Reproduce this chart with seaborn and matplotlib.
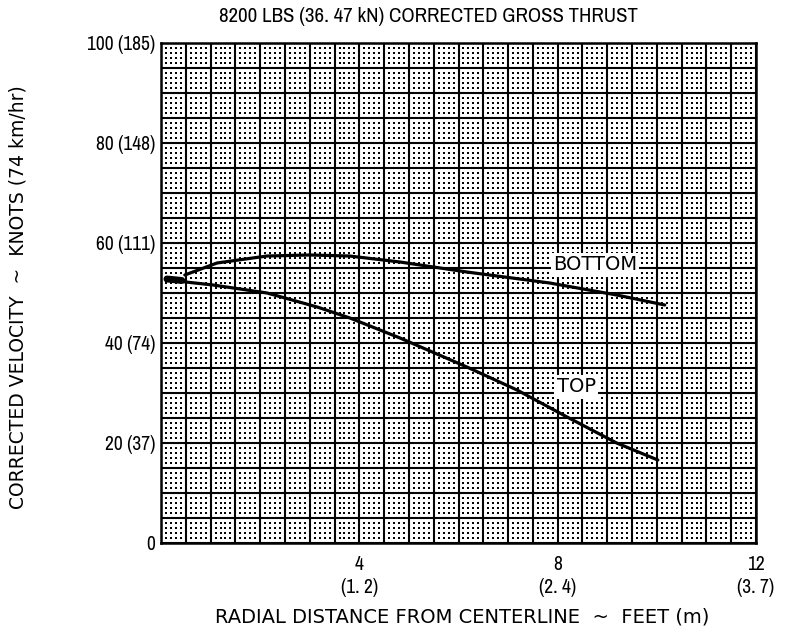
import numpy as np
import pandas as pd
import matplotlib
matplotlib.use("Agg")
import matplotlib.pyplot as plt
import seaborn as sns

# Velocity profiles across the jet, measured from the centerline
bottom_x = [0.48, 1.13, 2.14, 3.0, 3.8, 4.82, 6.17, 7.84, 9.19, 10.16]
bottom_y = [53.6, 56.0, 57.4, 57.6, 57.4, 56.2, 54.2, 52.0, 49.6, 47.6]
top_x = [0.12, 0.5, 1.05, 2.14, 3.15, 3.81, 4.82, 6.17, 7.18, 8.19, 9.19, 10.02]
top_y = [52.8, 52.2, 51.6, 50.0, 47.2, 45.0, 41.0, 35.2, 30.6, 25.2, 20.0, 16.6]
# heavy trace where the top probe starts
start_x = [0.12, 0.42]
start_y = [52.8, 52.5]

x_ticks = [4, 8, 12]
x_tick_labels = ["4\n(1. 2)", "8\n(2. 4)", "12\n(3. 7)"]
y_ticks = [0, 20, 40, 60, 80, 100]
y_tick_labels = ["0", "20 (37)", "40 (74)", "60 (111)", "80 (148)", "100 (185)"]

sns.set_style("white")
NARROW = ["Archivo Narrow", "DejaVu Sans"]
WIDE = ["DejaVu Sans"]
plt.rcParams["font.family"] = NARROW

df = pd.concat([
    pd.DataFrame({"x": bottom_x, "y": bottom_y, "side": "BOTTOM"}),
    pd.DataFrame({"x": top_x, "y": top_y, "side": "TOP"}),
])

W, H = 786, 634
fig = plt.figure(figsize=(W / 100, H / 100), dpi=100)
ax = fig.add_axes([161 / W, 1 - 543 / H, (756 - 161) / W, (543 - 43) / H])
ax.set_xlim(0, 12)
ax.set_ylim(0, 100)

# graph-paper background: dot grid at the fine rulings, solid coarse rulings
gx, gy = np.meshgrid(np.arange(0, 12.001, 0.1), np.arange(0, 100.001, 1.0))
ax.scatter(gx.ravel(), gy.ravel(), s=1.8, marker="s", color="black",
           linewidths=0, zorder=0)
for xv in np.arange(0, 12.001, 0.5):
    ax.axvline(xv, color="black", lw=1.5, zorder=1)
for yv in np.arange(0, 100.001, 5):
    ax.axhline(yv, color="black", lw=1.5, zorder=1)

sns.lineplot(data=df, x="x", y="y", units="side", estimator=None,
             color="black", lw=2.3, ax=ax, legend=False, zorder=3, sort=False)
sns.lineplot(x=start_x, y=start_y, color="black", lw=5, ax=ax, zorder=3)

ax.text(8.75, 55.6, "BOTTOM", fontsize=14, ha="center", va="center", color="black",
        family=WIDE, bbox=dict(facecolor="white", edgecolor="none", pad=1.5), zorder=4)
ax.text(8.37, 31.2, "TOP", fontsize=14, ha="center", va="center", color="black",
        family=WIDE, bbox=dict(facecolor="white", edgecolor="none", pad=1.5), zorder=4)

for s in ax.spines.values():
    s.set_linewidth(1.8)
    s.set_color("black")

ax.set_xticks(x_ticks)
ax.set_xticklabels(x_tick_labels, fontsize=14, linespacing=1.25)
ax.set_yticks(y_ticks)
ax.set_yticklabels(y_tick_labels, fontsize=14)
ax.tick_params(axis="x", length=0, pad=9, labelcolor="black")
ax.tick_params(axis="y", length=0, pad=4, labelcolor="black")
ax.set_xlabel("")
ax.set_ylabel("")

fig.text(462 / W, 1 - 617 / H, "RADIAL DISTANCE FROM CENTERLINE  ~  FEET (m)",
         fontsize=14, family=WIDE, ha="center", va="center", color="black")
fig.text(18 / W, 1 - 297 / H, "CORRECTED VELOCITY  ~  KNOTS (74 km/hr)",
         fontsize=13.5, family=WIDE, ha="center", va="center", rotation=90, color="black")
fig.text(428 / W, 1 - 16 / H, "8200 LBS (36. 47 kN) CORRECTED GROSS THRUST",
         fontsize=15, ha="center", va="center", color="black")

fig.savefig("out.png", dpi=100, facecolor="white")
